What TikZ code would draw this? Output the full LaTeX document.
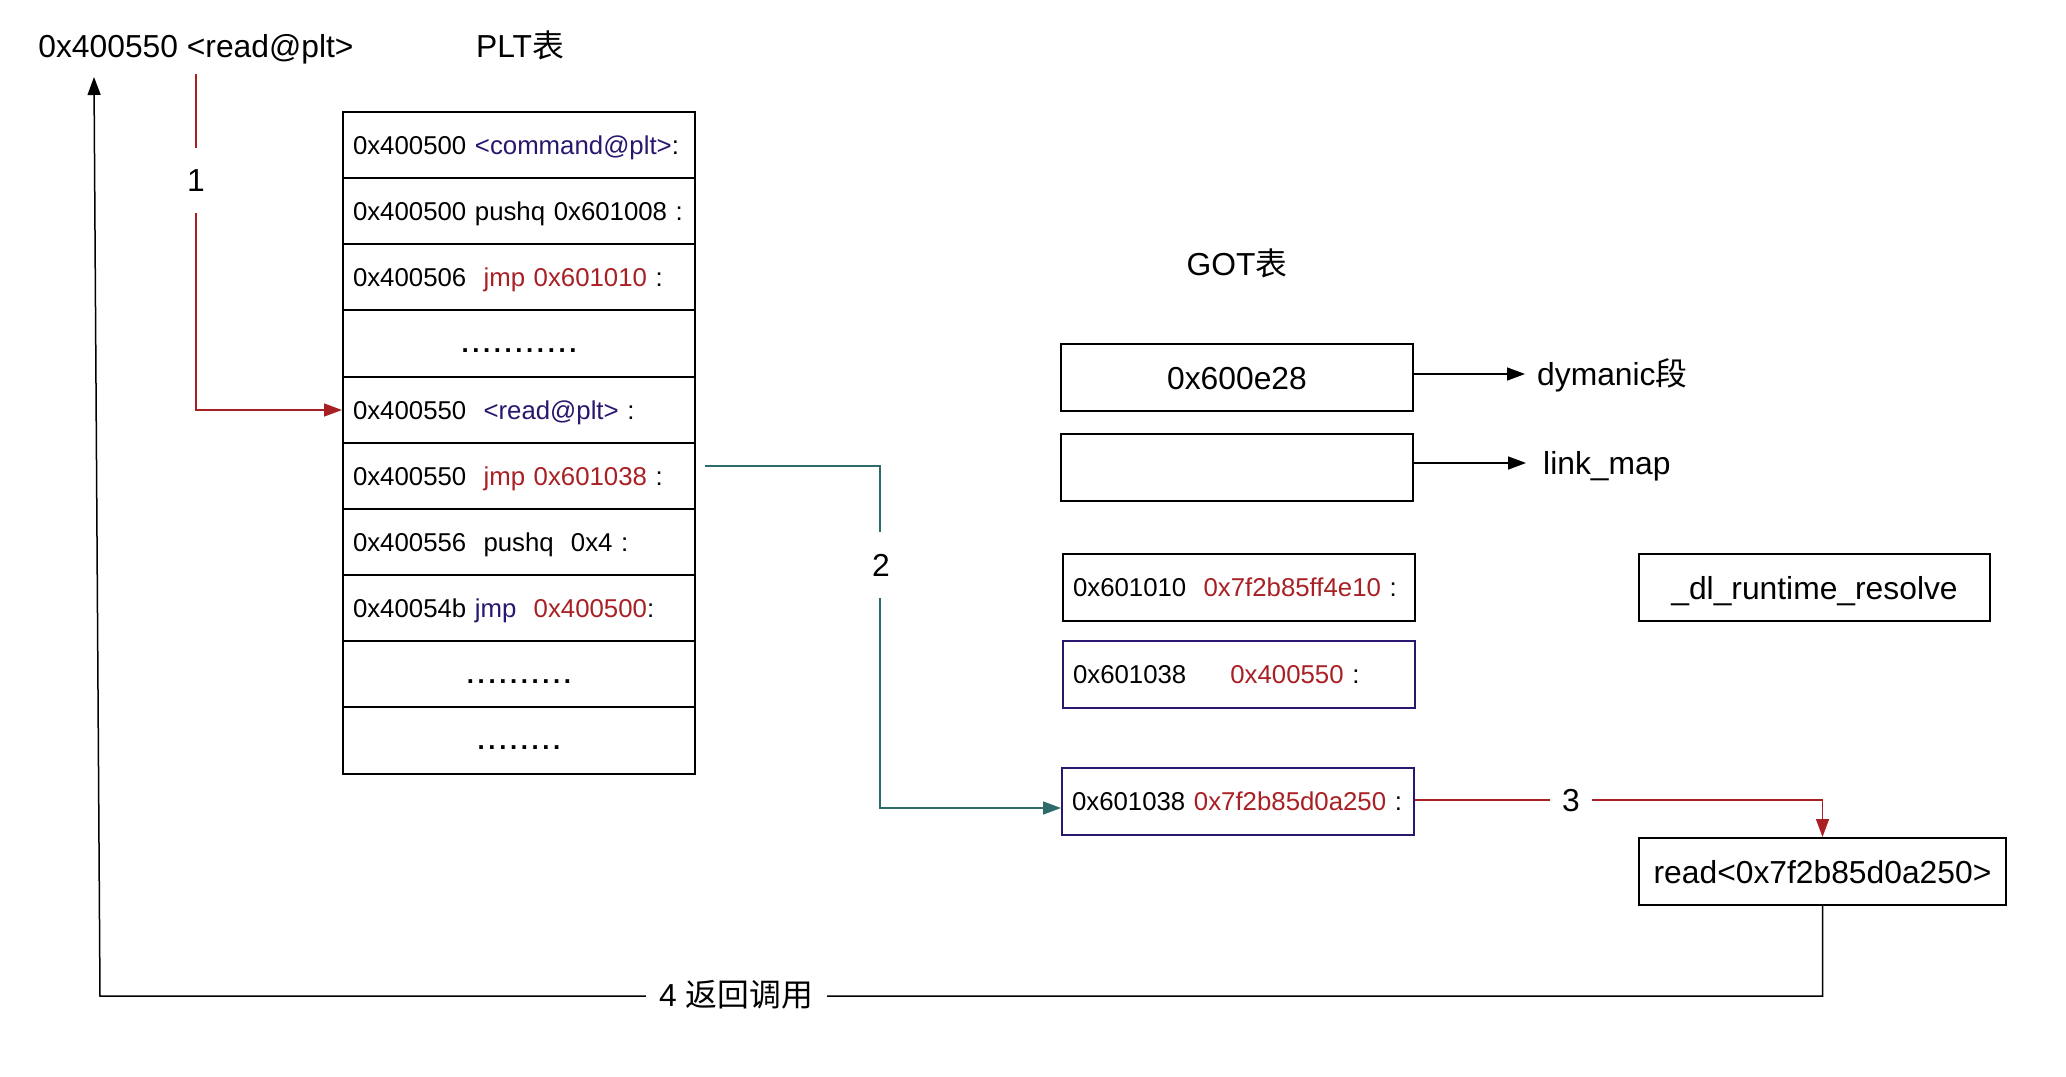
\documentclass[tikz,border=0pt]{standalone}
\usepackage{fontspec}
\setmainfont{Liberation Sans}
\newfontfamily\cjk{Noto Sans CJK SC}
\usetikzlibrary{arrows.meta}
\definecolor{cred}{RGB}{168,32,36}
\definecolor{cpur}{RGB}{42,22,110}
\definecolor{cteal}{RGB}{46,107,107}
\newcommand\dotrow[1]{\bfseries\foreach \k in {1,...,#1}{.\ifnum\k<#1\kern3.6pt\fi}}
\begin{document}
\begin{tikzpicture}[x=1pt,y=-1pt,
  big/.style={font=\fontsize{31.8}{38}\selectfont},
  sml/.style={font=\fontsize{25.8}{31}\selectfont},
  cell/.style={draw, line width=2pt, sml, minimum height=66pt, text width=332pt,
    inner xsep=10pt, inner ysep=0pt, text height=18.6pt, text depth=0pt,
    anchor=north west, align=left},
  dcell/.style={cell, align=center},
  gbox/.style={draw, line width=2pt, sml, minimum height=67pt, text width=332pt,
    inner xsep=10pt, inner ysep=0pt, text height=18.6pt, text depth=0pt, align=left},
  bbox/.style={draw, line width=2pt, big, minimum height=67pt, inner ysep=0pt,
    text height=23pt, text depth=0pt, align=center},
  lbl/.style={big, fill=white, inner sep=0pt, text height=23pt, text depth=0pt},
  conn/.style={line width=1.5pt},
  tip/.style={-{Triangle[length=18pt,width=13pt]}},
]
\useasboundingbox (0,0) rectangle (2066,1076);

% titles
\node[big, anchor=base] (title) at (196,57) {0x400550 <read@plt>};
\node[big, anchor=base] (plt) at (520,57) {PLT{\cjk 表}};
\node[big, anchor=base] (got) at (1237,275) {GOT{\cjk 表}};

% PLT table
\node[cell]  (r1)  at (342,111) {\mbox{0x400500 \textcolor{cpur}{<command@plt>}:}};
\node[cell]  (r2)  at (342,177) {\mbox{0x400500 pushq 0x601008 :}};
\node[cell]  (r3)  at (342,243) {\mbox{0x400506~ \textcolor{cred}{jmp 0x601010} :}};
\node[dcell, minimum height=67pt] (r4)  at (342,309) {\dotrow{11}};
\node[cell]  (r5)  at (342,376) {\mbox{0x400550~ \textcolor{cpur}{<read@plt>} :}};
\node[cell]  (r6)  at (342,442) {\mbox{0x400550~ \textcolor{cred}{jmp 0x601038} :}};
\node[cell]  (r7)  at (342,508) {\mbox{0x400556~ pushq~ 0x4 :}};
\node[cell]  (r8)  at (342,574) {\mbox{0x40054b \textcolor{cpur}{jmp}~ \textcolor{cred}{0x400500}:}};
\node[dcell] (r9)  at (342,640) {\dotrow{10}};
\node[dcell, minimum height=67pt] (r10) at (342,706) {\dotrow{8}};

% GOT
\node[bbox, minimum width=352pt] (g1) at (1237,377.5) {0x600e28};
\node[bbox, minimum width=352pt] (g2) at (1237,467.5) {};
\node[gbox] (g3) at (1239,587.5) {\mbox{0x601010~ \textcolor{cred}{0x7f2b85ff4e10} :}};
\node[gbox, draw=cpur] (g4) at (1239,674.5) {\mbox{0x601038\hspace{44pt}\textcolor{cred}{0x400550} :}};
\node[gbox, draw=cpur] (g5) at (1238,801.5) {\mbox{0x601038 \textcolor{cred}{0x7f2b85d0a250} :}};

\node[bbox, minimum width=351pt] (dl) at (1814.5,587.5) {\_dl\_runtime\_resolve};
\node[bbox, minimum width=367pt] (rd) at (1822.5,871.5) {read<0x7f2b85d0a250>};

\node[big, anchor=west, inner sep=0pt, text height=23pt, text depth=0pt] (dyn) at (1537,374) {dymanic{\cjk 段}};
\node[big, anchor=west, inner sep=0pt, text height=23pt, text depth=0pt] (lm) at (1543,463) {link\_map};

% arrows to labels
\draw[conn, tip, shorten >=12pt] ([yshift=3.5pt]g1.east) -- (dyn.west);
\draw[conn, tip, shorten >=17pt] ([yshift=4.5pt]g2.east) -- (lm.west);

% connector 1
\coordinate (c1) at (196,74);
\draw[conn, cred, tip] (c1) |- (r5.west);
\node[lbl, minimum height=65pt, minimum width=24pt] (n1) at (196,180) {1};

% connector 2
\coordinate (c2) at (705,466);
\draw[conn, cteal, tip] (c2) -- ++(175,0) |- ([yshift=-6.5pt]g5.west);
\node[lbl, minimum height=66pt, minimum width=26pt] (n2) at (881,565) {2};

% connector 3
\draw[conn, cred, tip] ([yshift=1.5pt]g5.east) -| (rd.north);
\node[lbl, minimum width=42pt, minimum height=30pt] (n3) at (1571,800) {3};

% connector 4
\coordinate (c4) at (94,77);
\draw[conn, tip] (rd.south) |- (100,996) -- (c4);
\node[lbl, minimum width=181pt, minimum height=34pt] (n4) at (736,995) {4 {\cjk 返回调用}};
\end{tikzpicture}
\end{document}
